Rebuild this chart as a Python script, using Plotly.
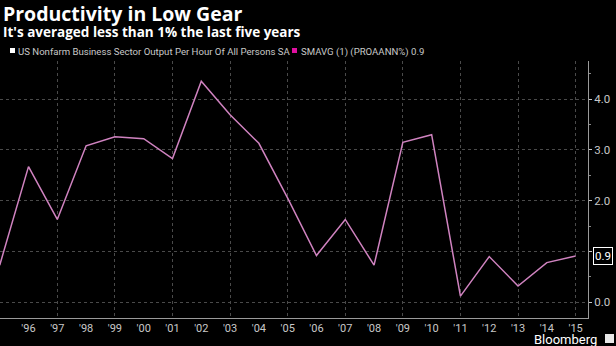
import plotly.graph_objects as go

# Annual nonfarm business productivity growth, % (SMAVG of 1 period)
years = list(range(1995, 2016))
productivity = [0.73, 2.67, 1.63, 3.08, 3.26, 3.22, 2.83, 4.35, 3.69, 3.13,
                2.05, 0.92, 1.63, 0.73, 3.15, 3.30, 0.12, 0.90, 0.32, 0.78, 0.91]
year_labels = ["'" + str(y)[2:] for y in years[1:]]
y_ticks = [0, 1, 2, 3, 4]
y_tick_labels = [f"{v:.1f}" for v in y_ticks]
grid_years = [y for y in years if y % 2 == 1]

title = "Productivity in Low Gear"
subtitle = "It's averaged less than 1% the last five years"
series_name = "US Nonfarm Business Sector Output Per Hour Of All Persons SA"
avg_name = "SMAVG (1) (PROAANN%) 0.9"
last_value = productivity[-1]

LINE = "#d083c0"
GRID = "#4a4a4a"
TICK = "#c8c8c8"
MAGENTA = "#e010a0"

fig = go.Figure()
fig.add_trace(go.Scatter(x=years, y=productivity, mode="lines",
                         line=dict(color=LINE, width=1.5),
                         hoverinfo="skip", showlegend=False))
# invisible trace carrying the odd-year grid axis
fig.add_trace(go.Scatter(x=[years[0]], y=[None], xaxis="x2", showlegend=False,
                         hoverinfo="skip"))

xrange = [1995.01, 2015.43]
fig.update_layout(
    width=616, height=346,
    margin=dict(l=0, r=28, t=61, b=28),
    paper_bgcolor="black", plot_bgcolor="black",
    font=dict(family="Roboto", color=TICK, size=11),
    xaxis=dict(range=xrange, tickmode="array", tickvals=years[1:],
               ticktext=year_labels, showgrid=False, zeroline=False,
               showline=True, linecolor="#9a9a9a", linewidth=1,
               ticks="outside", ticklen=0, tickfont=dict(size=11, color=TICK)),
    xaxis2=dict(range=xrange, overlaying="x", tickmode="array",
                tickvals=grid_years, showticklabels=False, showgrid=True,
                gridcolor=GRID, griddash="dot", gridwidth=1, zeroline=False,
                showline=False, ticks=""),
    yaxis=dict(side="right", range=[-0.31, 4.75], tickmode="array",
               tickvals=y_ticks, ticktext=y_tick_labels, showgrid=True,
               gridcolor=GRID, griddash="dot", gridwidth=1, zeroline=False,
               showline=True, linecolor="#9a9a9a", linewidth=1,
               ticks="outside", ticklen=3, tickcolor=TICK,
               tickfont=dict(size=11.5, color=TICK),
               minor=dict(dtick=0.5, ticks="outside", ticklen=2, tickcolor="#888",
                          showgrid=False)),
    showlegend=False,
)

def header(text, shift_x, shift_y, size, family, color="white"):
    return dict(text=text, x=0, y=1, xref="paper", yref="paper",
                xanchor="left", yanchor="top", xshift=shift_x, yshift=shift_y,
                font=dict(family=family, size=size, color=color), showarrow=False)

annotations = [
    header(f"<b>{title}</b>", 1, 63, 19.5, "Open Sans"),
    header(f"<b>{subtitle}</b>", 1, 40, 13.5, "Open Sans"),
    header(series_name, 16, 17, 9.6, "Roboto", TICK),
    header(avg_name, 299, 17, 9.6, "Roboto", TICK),
    dict(text=f"{last_value:.1f}", x=1, y=last_value, xref="paper", yref="y",
         xanchor="left", yanchor="middle", xshift=5, showarrow=False,
         bordercolor="white", borderwidth=1, borderpad=1, bgcolor="black",
         font=dict(family="Roboto", size=11.5, color="white")),
    dict(text="Bloomberg", x=1, y=0, xref="paper", yref="paper",
         xanchor="right", yanchor="top", xshift=11, yshift=-12,
         font=dict(family="Roboto", size=13, color="white"), showarrow=False),
]
fig.update_layout(annotations=annotations)

# legend swatches, pinned to the top edge of the plot in pixels
def swatch(x_px, color):
    fig.add_shape(type="rect", xref="paper", yref="paper",
                  xsizemode="pixel", ysizemode="pixel", xanchor=0, yanchor=1,
                  x0=x_px, x1=x_px + 5, y0=8, y1=13,
                  fillcolor=color, line=dict(width=0))

swatch(10, "white")
swatch(292, MAGENTA)

# small badge next to the wordmark
fig.add_shape(type="rect", xref="paper", yref="paper",
              xsizemode="pixel", ysizemode="pixel", xanchor=1, yanchor=0,
              x0=17, x1=26, y0=-16, y1=-25,
              fillcolor="#e8e8e8", line=dict(width=0))

fig.write_html("out.html")
